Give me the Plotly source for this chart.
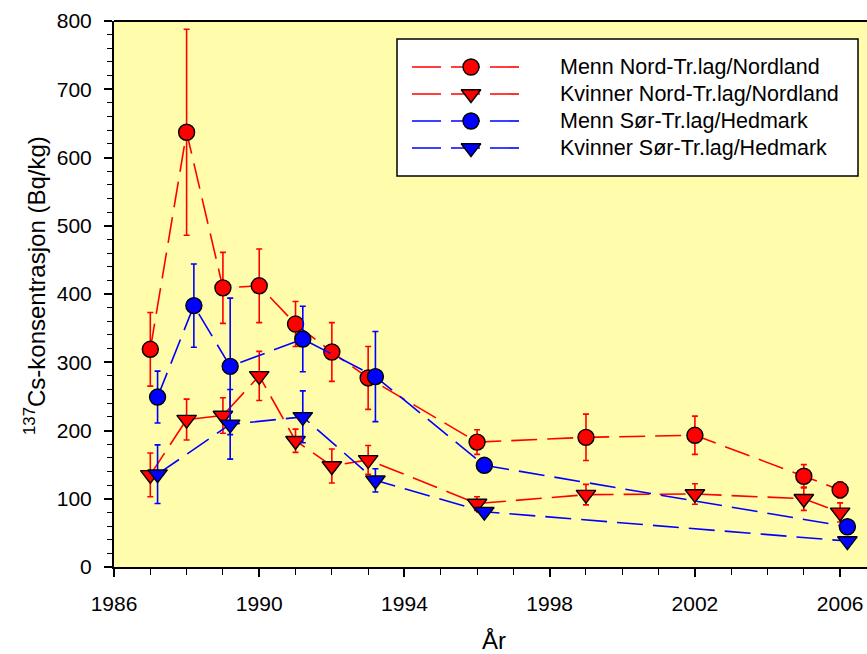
import plotly.graph_objects as go

# ---------------- data ----------------
years_nord = [1987, 1988, 1989, 1990, 1991, 1992, 1993, 1996, 1999, 2002, 2005, 2006]
menn_nord = [319, 637, 409, 412, 356, 315, 277, 183, 190, 193, 133, 113]
menn_nord_err = [54, 151, 52, 54, 33, 43, 46, 18, 34, 28, 17, 12]
kvinner_nord = [135, 216, 222, 280, 185, 148, 157, 93, 106, 107, 100, 80]
kvinner_nord_err = [32, 30, 26, 36, 17, 25, 21, 10, 15, 15, 17, 14]

years_menn_sor = [1987, 1988, 1989, 1991, 1993, 1996, 2006]
menn_sor = [249, 383, 294, 334, 279, 149, 59]
menn_sor_err = [38, 61, 100, 48, 66, 5, 5]
years_kvinner_sor = [1987, 1989, 1991, 1993, 1996, 2006]
kvinner_sor = [136, 209, 220, 127, 81, 38]
kvinner_sor_err = [43, 51, 38, 17, 5, 5]

series_names = [
    "Menn Nord-Tr.lag/Nordland",
    "Kvinner Nord-Tr.lag/Nordland",
    "Menn Sør-Tr.lag/Hedmark",
    "Kvinner Sør-Tr.lag/Hedmark",
]
x_ticks = [1986, 1990, 1994, 1998, 2002, 2006]
y_ticks = [0, 100, 200, 300, 400, 500, 600, 700, 800]

# ---------------- style ----------------
SOR_OFFSET = 0.2  # horizontal display offset of the Sør series
RED = "#FF0000"
BLUE = "#0000FF"
BG = "#FFFDAB"
FONT = "Liberation Sans, Arial, sans-serif"
DASH = "26px,10px"
W, H = 867, 654
L, R, T, B = 114, 0, 21, 87

def px_x(p):
    return (p - L) / (W - L - R)

def px_y(p):
    return (H - B - p) / (H - T - B)

fig = go.Figure()

def add_series(x, y, err, color, symbol, name):
    fig.add_trace(go.Scatter(
        x=x, y=y, name=name, mode="lines+markers",
        line=dict(color=color, width=1.6, dash=DASH),
        marker=dict(symbol=symbol, size=16 if symbol == "circle" else 17,
                    color=color, line=dict(color="black", width=1.4)),
        error_y=dict(type="data", array=err, color=color, thickness=1.6, width=3),
        showlegend=False,
    ))

add_series(years_nord, menn_nord, menn_nord_err, RED, "circle", series_names[0])
add_series(years_nord, kvinner_nord, kvinner_nord_err, RED, "triangle-down", series_names[1])
add_series([v + SOR_OFFSET for v in years_menn_sor], menn_sor, menn_sor_err, BLUE, "circle", series_names[2])
add_series([v + SOR_OFFSET for v in years_kvinner_sor], kvinner_sor, kvinner_sor_err, BLUE, "triangle-down", series_names[3])

# ---------------- manual legend ----------------
leg_rows = [67, 94, 121, 148]
leg_colors = [RED, RED, BLUE, BLUE]
leg_symbols = ["circle", "triangle-down", "circle", "triangle-down"]
shapes = [
    dict(type="rect", xref="paper", yref="paper",
         x0=px_x(397), x1=px_x(858), y0=px_y(176), y1=px_y(39),
         fillcolor="white", line=dict(color="black", width=1.5), layer="below"),
    # top frame line
    dict(type="line", xref="paper", yref="paper", x0=0, x1=1, y0=1, y1=1,
         line=dict(color="black", width=2)),
]
annotations = []
for row, col, name in zip(leg_rows, leg_colors, series_names):
    shapes.append(dict(type="line", xref="paper", yref="paper",
                       x0=px_x(412), x1=px_x(519), y0=px_y(row), y1=px_y(row),
                       line=dict(color=col, width=1.6, dash="29px,10px"), layer="below"))
    annotations.append(dict(xref="paper", yref="paper", x=px_x(558), y=px_y(row),
                            xanchor="left", yanchor="middle", text=name, showarrow=False,
                            font=dict(family=FONT, size=21.5, color="black")))
for row, col, sym in zip(leg_rows, leg_colors, leg_symbols):
    fig.add_trace(go.Scatter(
        x=[px_x(471)], y=[px_y(row)],
        mode="markers", xaxis="x2", yaxis="y2", showlegend=False, hoverinfo="skip",
        marker=dict(symbol=sym, size=16 if sym == "circle" else 17, color=col,
                    line=dict(color="black", width=1.4)),
    ))

# axis titles
annotations.append(dict(xref="paper", yref="paper", x=px_x(35), y=px_y(286),
                        xanchor="center", yanchor="middle", textangle=-90, showarrow=False,
                        text="<sup>137</sup>Cs-konsentrasjon (Bq/kg)",
                        font=dict(family=FONT, size=24, color="black")))
annotations.append(dict(xref="paper", yref="paper", x=px_x(494), y=px_y(640),
                        xanchor="center", yanchor="middle", showarrow=False,
                        text="År", font=dict(family=FONT, size=24, color="black")))

fig.update_layout(
    width=W, height=H,
    margin=dict(l=L, r=R, t=T, b=B, pad=0),
    paper_bgcolor="white", plot_bgcolor=BG,
    font=dict(family=FONT, size=21, color="black"),
    shapes=shapes, annotations=annotations,
    xaxis=dict(range=[1986, 2006.74], tickvals=x_ticks, ticks="outside", ticklen=8,
               tickwidth=1.5, tickcolor="black", showgrid=False, zeroline=False,
               showline=True, linecolor="black", linewidth=2, ticklabelstandoff=9,
               minor=dict(dtick=1, ticks="outside", ticklen=6, tickwidth=1.2,
                          tickcolor="black", showgrid=False),
               tickfont=dict(size=21)),
    yaxis=dict(range=[0, 800], tickvals=y_ticks, ticks="outside", ticklen=8,
               tickwidth=1.5, tickcolor="black", showgrid=False, zeroline=False,
               showline=True, linecolor="black", linewidth=2, ticklabelstandoff=8,
               minor=dict(dtick=20, ticks="outside", ticklen=5, tickwidth=1.2,
                          tickcolor="black", showgrid=False),
               tickfont=dict(size=21)),
    xaxis2=dict(overlaying="x", range=[0, 1], visible=False, fixedrange=True),
    yaxis2=dict(overlaying="y", range=[0, 1], visible=False, fixedrange=True),
)

fig.write_html("out.html", config={"displayModeBar": False},
               post_script="document.body.style.margin='0';document.body.style.padding='0';")
